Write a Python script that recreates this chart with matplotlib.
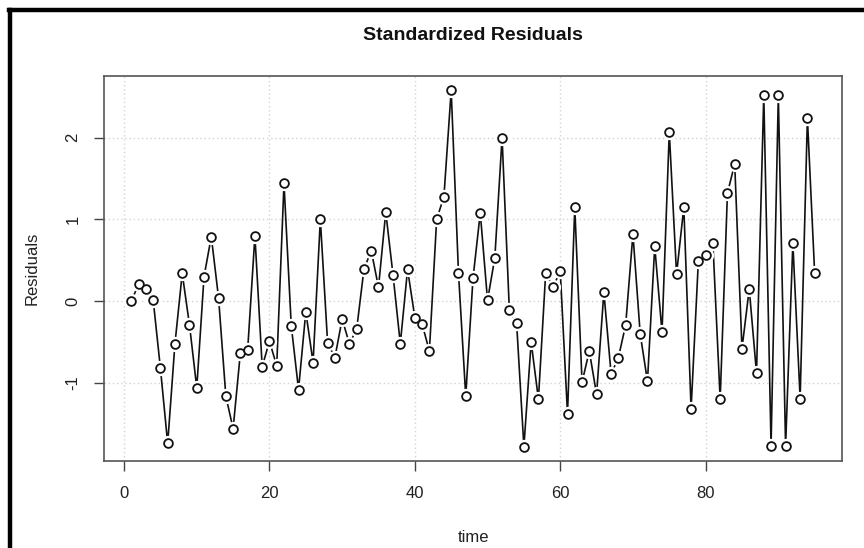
import numpy as np
import matplotlib
matplotlib.use("Agg")
import matplotlib.pyplot as plt
from matplotlib.lines import Line2D

plt.rcParams['font.family'] = ['Liberation Sans', 'DejaVu Sans']

# standardized residuals, time = 1..95
time = list(range(1, 96))
resid = [
    0.00, 0.21, 0.15, 0.02, -0.82, -1.74, -0.52, 0.34, -0.29, -1.06,
    0.30, 0.79, 0.04, -1.16, -1.56, -0.63, -0.60, 0.80, -0.80, -0.49,
    -0.79, 1.44, -0.30, -1.08, -0.13, -0.75, 1.00, -0.51, -0.69, -0.22,
    -0.52, -0.34, 0.39, 0.62, 0.17, 1.09, 0.32, -0.52, 0.39, -0.20,
    -0.28, -0.61, 1.00, 1.28, 2.58, 0.35, -1.16, 0.28, 1.08, 0.01,
    0.53, 2.00, -0.11, -0.27, -1.78, -0.50, -1.20, 0.35, 0.17, 0.37,
    -1.38, 1.15, -0.99, -0.61, -1.14, 0.11, -0.89, -0.69, -0.29, 0.82,
    -0.40, -0.98, 0.67, -0.38, 2.07, 0.33, 1.15, -1.32, 0.49, 0.56,
    0.71, -1.20, 1.32, 1.68, -0.58, 0.15, -0.88, 2.52, -1.77, 2.52,
    -1.77, 0.71, -1.19, 2.24, 0.34,
]
x_ticks = [0, 20, 40, 60, 80]
y_ticks = [-1, 0, 1, 2]

W, H = 864, 548
fig = plt.figure(figsize=(W / 100, H / 100), dpi=100, facecolor="white")
ax = fig.add_axes([104 / W, 1 - 461 / H, (842 - 104) / W, (461 - 76) / H])

# R-style 4% padding on the data range
def r_lim(v):
    lo, hi = min(v), max(v)
    pad = 0.04 * (hi - lo)
    return lo - pad, hi + pad

ax.set_xlim(*r_lim(time))
ax.set_ylim(*r_lim(resid))

ax.grid(True, color="#d3d3d3", linestyle=(0, (1, 2)), linewidth=1.0)
ax.set_axisbelow(True)

# type="b": line, white halo to open gaps, then open circles
ax.plot(time, resid, color="#111111", linewidth=1.2, zorder=2)
ax.plot(time, resid, linestyle="none", marker="o", markersize=10,
        markerfacecolor="white", markeredgecolor="white", zorder=3)
ax.plot(time, resid, linestyle="none", marker="o", markersize=6.3,
        markerfacecolor="white", markeredgecolor="#111111",
        markeredgewidth=1.3, zorder=4)

ax.set_xticks(x_ticks)
ax.set_yticks(y_ticks)
ax.set_yticklabels([str(t) for t in y_ticks], rotation=90, va="center")
ax.tick_params(direction="out", length=7, width=1.0, color="#444444",
               labelsize=12, labelcolor="#222222")
ax.tick_params(axis="x", pad=11)
ax.tick_params(axis="y", pad=10)
for s in ax.spines.values():
    s.set_edgecolor("#555555")
    s.set_linewidth(1.2)

ax.set_title("Standardized Residuals", fontsize=14, fontweight="bold",
             pad=26, color="#111111")
ax.set_xlabel("time", fontsize=12, labelpad=21, color="#222222")
ax.set_ylabel("Residuals", fontsize=12, labelpad=18.5, color="#222222")

# outer frame (left and top edges visible)
fig.add_artist(Line2D([10 / W, 10 / W], [0, 1 - 10 / H],
                      transform=fig.transFigure, color="black", linewidth=3.2))
fig.add_artist(Line2D([8.5 / W, 1], [1 - 10 / H, 1 - 10 / H],
                      transform=fig.transFigure, color="black", linewidth=3.2))

fig.savefig("out.png", dpi=100, facecolor="white")
